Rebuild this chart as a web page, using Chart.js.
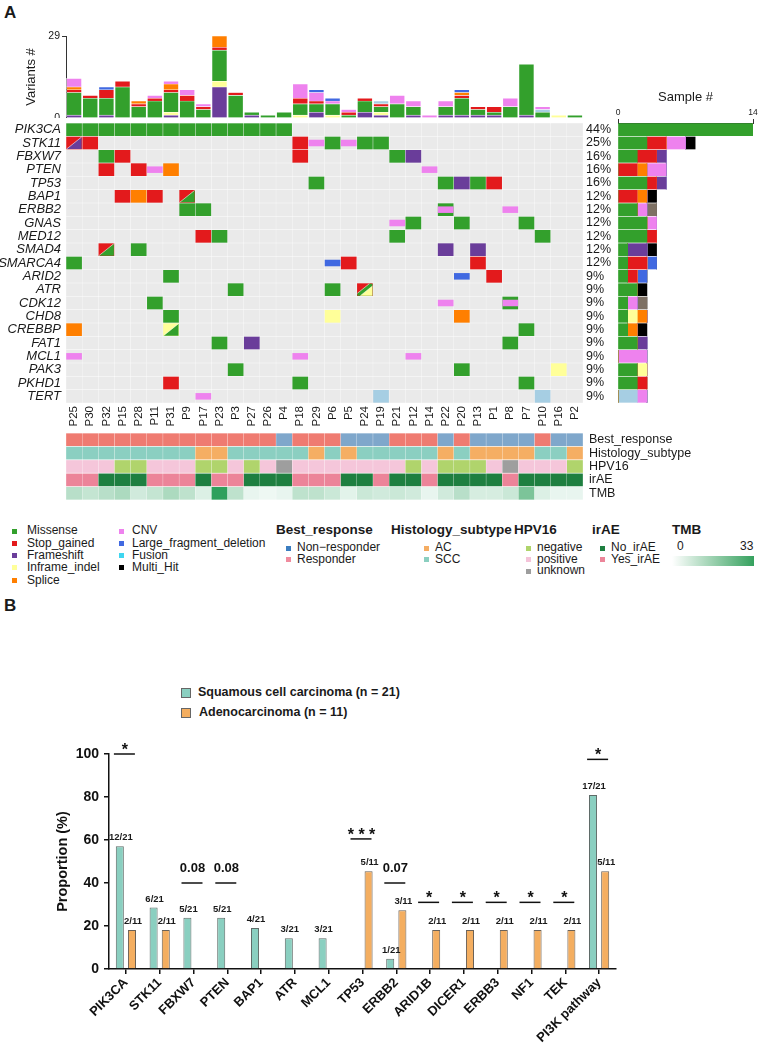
<!DOCTYPE html>
<html>
<head>
<meta charset="utf-8">
<title>Oncoprint and subtype comparison</title>
<script src="https://cdn.jsdelivr.net/npm/chart.js@4.4.1/dist/chart.umd.min.js"></script>
<style>
  html, body { margin: 0; padding: 0; background: #fff; }
  body { width: 758px; height: 1055px; position: relative; overflow: hidden; font-family: "Liberation Sans", Arial, sans-serif; color: #1a1a1a; }
  canvas, .t, .sq { position: absolute; }
  .t { white-space: nowrap; line-height: 1; }
</style>
</head>
<body>
<div class="t" style="left:4px;top:4px;font-size:17px;font-weight:bold">A</div>
<div class="t" style="left:4px;top:597px;font-size:17px;font-weight:bold">B</div>
<canvas id="variants" width="583" height="92" style="left:0;top:26px"></canvas>
<canvas id="oncoprint" width="620" height="318" style="left:0;top:118px"></canvas>
<canvas id="sampleBars" width="153" height="323" style="left:605px;top:80px"></canvas>
<canvas id="tracks" width="741" height="74" style="left:0;top:430px"></canvas>
<div id="legendA"></div>
<canvas id="histo" width="620" height="325" style="left:42px;top:730px"></canvas>
<div id="legendB"></div>
<script>
// ---------- panel A data ----------
const samples = ['P25','P30','P32','P15','P28','P11','P31','P9','P17','P23','P3','P27','P26','P4','P18','P29',
                 'P6','P5','P24','P19','P21','P12','P14','P22','P20','P13','P1','P8','P7','P10','P16','P2'];
const genes = ['PIK3CA','STK11','FBXW7','PTEN','TP53','BAP1','ERBB2','GNAS','MED12','SMAD4','SMARCA4',
               'ARID2','ATR','CDK12','CHD8','CREBBP','FAT1','MCL1','PAK3','PKHD1','TERT'];
const genePct = ['44%','25%','16%','16%','16%','12%','12%','12%','12%','12%','12%',
                 '9%','9%','9%','9%','9%','9%','9%','9%','9%','9%'];

// M missense, S stop_gained, F frameshift, I inframe_indel, P splice, C CNV, L large deletion, U fusion
// "a/b" = multi hit (split cell), "a+b" = overlaid
const mutations = {
  PIK3CA: { P25:'M', P30:'M', P32:'M', P15:'M', P28:'M', P11:'M', P31:'M', P9:'M', P17:'M', P23:'M', P3:'M', P27:'M', P26:'M', P4:'M' },
  STK11: { P25:'S/F', P30:'S', P18:'S', P29:'C', P6:'M', P5:'C', P24:'M', P19:'M' },
  FBXW7: { P32:'M', P15:'S', P18:'S', P21:'M', P12:'F' },
  PTEN: { P32:'S', P28:'S', P11:'C', P31:'P', P14:'C' },
  TP53: { P29:'M', P22:'M', P20:'F', P13:'M', P1:'S' },
  BAP1: { P15:'S', P28:'P', P11:'S', P9:'S/M' },
  ERBB2: { P9:'M', P17:'M', P22:'M+C', P8:'C' },
  GNAS: { P21:'C', P12:'M', P20:'M', P7:'M' },
  MED12: { P17:'S', P23:'M', P21:'M', P10:'M' },
  SMAD4: { P32:'S/M', P28:'M', P22:'F', P13:'F' },
  SMARCA4: { P25:'M', P6:'L', P5:'S', P13:'S' },
  ARID2: { P31:'M', P20:'L', P1:'S' },
  ATR: { P3:'M', P6:'M', P24:'S/M/I' },
  CDK12: { P11:'M', P22:'C', P8:'M+C' },
  CHD8: { P31:'M', P6:'I', P20:'P' },
  CREBBP: { P25:'P', P31:'I/M', P7:'M' },
  FAT1: { P23:'M', P27:'F', P8:'M' },
  MCL1: { P25:'C', P18:'C', P12:'C' },
  PAK3: { P3:'M', P20:'M', P16:'I' },
  PKHD1: { P31:'S', P18:'M', P7:'M' },
  TERT: { P17:'C', P19:'U', P10:'U' }
};

// variants per sample (top bars)
const varFrameshift = [1,0,1,0,0,0,1,0,0,11,0,1,0,0,0,2,0,0,2,1,0,1,0,1,1,1,1,0,1,0,0,0];
const varInframe    = [0,0,0,0,0,0,1,0,0,2,0,0,0,0,1,0,1,0,0,1,0,0,0,0,0,0,0,0,0,0,1,0];
const varMissense   = [8,7,6,11,4,6,7,6,3,11,8,1,1,2,4,3,4,1,4,2,5,3,0,3,6,2,1,4,18,2,0,1];
const varStop       = [1,1,3,2,1,1,1,2,1,1,1,0,0,0,2,1,0,1,1,1,0,0,0,0,1,1,2,0,0,0,0,0];
const varSplice     = [1,0,0,0,1,0,2,0,0,4,0,0,0,0,0,0,0,0,0,0,0,0,0,0,1,0,0,0,0,0,0,0];
const varFusion     = [0,0,0,0,0,0,0,0,0,0,0,0,0,0,0,0,0,0,0,1,0,0,0,0,0,0,0,0,0,1,0,0];
const varCNV        = [3,0,0,0,0,1,1,2,1,0,0,0,0,0,5,3,1,1,0,0,3,2,1,2,0,0,0,3,0,1,0,0];
const varLargeDel   = [0,0,1,0,0,0,0,0,0,0,0,0,0,0,0,1,1,0,0,0,0,0,0,0,1,0,0,0,0,0,0,0];

// annotation tracks
const bestResponse = ['R','R','R','R','R','R','R','R','R','R','R','R','R','N','R','R','R','N','N','N','R','R','R','N','R','N','N','N','N','R','N','N'];
const histology    = ['S','S','S','S','S','S','S','S','A','A','S','S','S','S','S','A','S','A','S','S','S','S','S','A','S','A','A','A','A','S','S','A'];
const hpv16        = ['p','p','p','n','n','p','p','p','n','n','p','n','p','u','p','p','p','p','p','p','p','n','p','n','n','n','p','u','p','p','p','n'];
const irae         = ['Y','Y','N','N','N','Y','Y','Y','N','Y','Y','N','N','N','Y','Y','Y','N','N','Y','N','N','Y','N','N','N','N','Y','N','N','N','N'];
const tmb          = [10,8,10,12,6,8,12,9,4,33,9,2,1,2,9,9,7,3,7,6,7,6,2,6,10,5,5,7,20,4,2,2];
const trackNames = ['Best_response','Histology_subtype','HPV16','irAE','TMB'];

// ---------- panel B data ----------
const bGenes = ['PIK3CA','STK11','FBXW7','PTEN','BAP1','ATR','MCL1','TP53','ERBB2','ARID1B','DICER1','ERBB3','NF1','TEK','PI3K pathway'];
const sccCount = [12,6,5,5,4,3,3,0,1,0,0,0,0,0,17];
const acCount  = [2,2,0,0,0,0,0,5,3,2,2,2,2,2,5];
const sccN = 21, acN = 11;
const sigText  = ['*','','0.08','0.08','','','','* * *','0.07','*','*','*','*','*','*'];
const sigLevel = [100,null,40,40,null,null,null,60.5,40,31,31,31,31,31,97.5];

// ---------- colours ----------
const typeColor = { M:'#33A02C', S:'#E31A1C', F:'#6A3D9A', I:'#FFFF99', P:'#FF7F00', C:'#EE82EE', L:'#4169E1', U:'#A6CEE3' };
const thinTypes = ['C','L'];
const trackColor = {
  Best_response: { R:'#EF7B71', N:'#7FA7CB' },
  Histology_subtype: { S:'#8BCFC1', A:'#F5AE63' },
  HPV16: { n:'#B0D46C', p:'#F5C6DA', u:'#9E9E9E' },
  irAE: { N:'#1E7F40', Y:'#EC8499' }
};
function tmbColor(v) {
  const t = Math.min(1, v / 33), a = [244,251,248], b = [46,160,92];
  const c = a.map((x, i) => Math.round(x + (b[i] - x) * t));
  return `rgb(${c.join(',')})`;
}

Chart.defaults.font.family = '"Liberation Sans", Arial, sans-serif';
Chart.defaults.color = '#1a1a1a';
Chart.defaults.animation = false;
Chart.defaults.plugins.legend.display = false;
Chart.defaults.plugins.tooltip.enabled = false;

// keep tick labels from adding extra padding to the chart area
const noVPad = s => { s.paddingTop = 0; s.paddingBottom = 0; };
const noHPad = s => { s.paddingLeft = 0; s.paddingRight = 0; };

// ---------- top: variants # ----------
const variantSeries = [
  ['Frameshift', varFrameshift, 'F'], ['Inframe_indel', varInframe, 'I'], ['Missense', varMissense, 'M'],
  ['Stop_gained', varStop, 'S'], ['Splice', varSplice, 'P'], ['Fusion', varFusion, 'U'],
  ['CNV', varCNV, 'C'], ['Large_fragment_deletion', varLargeDel, 'L']
];
new Chart(document.getElementById('variants'), {
  type: 'bar',
  data: {
    labels: samples,
    datasets: variantSeries.map(([label, data, code]) => ({
      label, data, backgroundColor: typeColor[code], borderColor: '#fff', borderWidth: 0.6, barThickness: 15
    }))
  },
  options: {
    responsive: false,
    layout: { padding: { left: 24, top: 10, bottom: 0, right: 0 } },
    scales: {
      x: { stacked: true, display: false },
      y: {
        stacked: true, min: 0, max: 29,
        afterBuildTicks: s => { s.ticks = [{ value: 0 }, { value: 29 }]; },
        afterFit: s => { s.width = 42; noVPad(s); },
        grid: { drawOnChartArea: false, tickLength: 4, color: '#333' },
        border: { color: '#333' },
        ticks: { font: { size: 10.5 }, padding: 2 },
        title: { display: true, text: 'Variants #', font: { size: 13 }, padding: 0 }
      }
    }
  }
});

// ---------- oncoprint matrix ----------
const bgCells = [], fullCells = [], thinCells = [], splitCells = [];
genes.forEach((g, gi) => {
  samples.forEach(s => bgCells.push({ x: s, y: [gi - 0.46, gi + 0.46] }));
  Object.entries(mutations[g]).forEach(([s, code]) => {
    if (code.includes('/')) {
      splitCells.push({ x: s, y: [gi - 0.45, gi + 0.45], colors: code.split('/').map(c => typeColor[c]) });
      return;
    }
    code.split('+').forEach(c => {
      if (thinTypes.includes(c)) thinCells.push({ x: s, y: [gi - 0.22, gi + 0.22], color: typeColor[c] });
      else fullCells.push({ x: s, y: [gi - 0.45, gi + 0.45], color: typeColor[c] });
    });
  });
});

const splitPlugin = {
  id: 'splitCells',
  afterDatasetsDraw(chart) {
    const di = chart.data.datasets.findIndex(d => d.split);
    if (di < 0) return;
    const ctx = chart.ctx;
    chart.getDatasetMeta(di).data.forEach((bar, i) => {
      const { x, y, base, width } = bar.getProps(['x', 'y', 'base', 'width'], true);
      const left = x - width / 2, top = Math.min(y, base), h = Math.abs(base - y);
      const cols = chart.data.datasets[di].data[i].colors;
      const cuts = cols.length === 2 ? [1] : [0.8, 1.2];
      cuts.forEach((t, k) => {
        const pts = t <= 1 ? [[t, 0], [1, 0], [1, 1], [0, 1], [0, t]] : [[1, t - 1], [1, 1], [t - 1, 1]];
        ctx.save();
        ctx.beginPath();
        pts.forEach(([u, v], j) => {
          const px = left + u * width, py = top + v * h;
          j ? ctx.lineTo(px, py) : ctx.moveTo(px, py);
        });
        ctx.closePath();
        ctx.fillStyle = cols[k + 1];
        ctx.fill();
        ctx.strokeStyle = 'rgba(255,255,255,0.8)';
        ctx.lineWidth = 0.7;
        ctx.beginPath();
        if (t <= 1) { ctx.moveTo(left + t * width, top); ctx.lineTo(left, top + t * h); }
        else { ctx.moveTo(left + width, top + (t - 1) * h); ctx.lineTo(left + (t - 1) * width, top + h); }
        ctx.stroke();
        ctx.restore();
      });
    });
  }
};

const rowTicks = s => { s.ticks = genes.map((g, i) => ({ value: i })); };
new Chart(document.getElementById('oncoprint'), {
  type: 'bar',
  data: {
    labels: samples,
    datasets: [
      { data: bgCells, backgroundColor: '#EAEAEA', barThickness: 15.2, order: 4 },
      { data: fullCells, backgroundColor: c => c.raw && c.raw.color, barThickness: 15, order: 3 },
      { data: splitCells, split: true, backgroundColor: c => c.raw && c.raw.colors[0], barThickness: 15, order: 2 },
      { data: thinCells, backgroundColor: c => c.raw && c.raw.color, barThickness: 15, order: 1 }
    ]
  },
  options: {
    responsive: false,
    datasets: { bar: { grouped: false } },
    layout: { padding: { top: 5, bottom: 0, left: 0, right: 0 } },
    scales: {
      x: {
        type: 'category', offset: true,
        grid: { display: false, drawTicks: false }, border: { display: false },
        ticks: { autoSkip: false, minRotation: 90, maxRotation: 90, padding: 3, font: { size: 11.5 } },
        afterFit: s => { s.height = 33; noHPad(s); }
      },
      y: {
        type: 'linear', min: -0.5, max: 20.5, reverse: true,
        afterBuildTicks: rowTicks, afterFit: s => { s.width = 66; noVPad(s); },
        grid: { display: false, drawTicks: false }, border: { display: false },
        ticks: { autoSkip: false, padding: 5, font: { size: 13, style: 'italic' }, callback: v => genes[v] }
      },
      pct: {
        type: 'linear', position: 'right', min: -0.5, max: 20.5, reverse: true,
        afterBuildTicks: rowTicks, afterFit: s => { s.width = 37; noVPad(s); },
        grid: { display: false, drawTicks: false }, border: { display: false },
        ticks: { autoSkip: false, padding: 3, font: { size: 12.5 }, callback: v => genePct[v] }
      }
    }
  },
  plugins: [splitPlugin]
});

// ---------- right: sample # per gene ----------
const sampleCats = [
  ['Missense', 'M', typeColor.M], ['Stop_gained', 'S', typeColor.S], ['Inframe_indel', 'I', typeColor.I],
  ['Splice', 'P', typeColor.P], ['Frameshift', 'F', typeColor.F], ['Fusion', 'U', typeColor.U],
  ['CNV', 'C', typeColor.C], ['Large_fragment_deletion', 'L', typeColor.L],
  ['Missense;CNV', 'M+C', '#7E7164'], ['Multi_Hit', 'multi', '#000000']
];
const catOf = code => code.includes('/') ? 'multi' : code;
new Chart(document.getElementById('sampleBars'), {
  type: 'bar',
  data: {
    labels: genes,
    datasets: sampleCats.map(([label, key, color]) => ({
      label,
      data: genes.map(g => Object.values(mutations[g]).filter(c => catOf(c) === key).length),
      backgroundColor: color, barThickness: 12
    }))
  },
  options: {
    responsive: false, indexAxis: 'y',
    layout: { padding: { left: 13, right: 5, top: 0, bottom: 0 } },
    scales: {
      x: {
        position: 'top', stacked: true, min: 0, max: 14,
        afterBuildTicks: s => { s.ticks = [{ value: 0 }, { value: 14 }]; },
        afterFit: s => { s.height = 43; noHPad(s); },
        grid: { drawOnChartArea: false, tickLength: 4, color: '#333' },
        border: { color: '#333' },
        ticks: { font: { size: 8.5 }, padding: 1, maxRotation: 0 },
        title: { display: true, text: 'Sample #', font: { size: 13 }, padding: { top: 10, bottom: 3 } }
      },
      y: { stacked: true, display: false }
    }
  }
});

// ---------- annotation tracks ----------
const trackValues = [bestResponse, histology, hpv16, irae, tmb];
const trackCells = [];
trackNames.forEach((name, ti) => {
  samples.forEach((s, si) => {
    const v = trackValues[ti][si];
    trackCells.push({ x: s, y: [ti - 0.45, ti + 0.45], color: name === 'TMB' ? tmbColor(v) : trackColor[name][v] });
  });
});
new Chart(document.getElementById('tracks'), {
  type: 'bar',
  data: { labels: samples, datasets: [{ data: trackCells, backgroundColor: c => c.raw && c.raw.color, barThickness: 15.2 }] },
  options: {
    responsive: false,
    datasets: { bar: { grouped: false } },
    layout: { padding: { left: 66, top: 3, bottom: 4, right: 0 } },
    scales: {
      x: { type: 'category', display: false },
      y: {
        type: 'linear', position: 'right', min: -0.5, max: 4.5, reverse: true,
        afterBuildTicks: s => { s.ticks = trackNames.map((n, i) => ({ value: i })); },
        afterFit: s => { s.width = 158; noVPad(s); },
        grid: { display: false, drawTicks: false }, border: { display: false },
        ticks: { autoSkip: false, padding: 6, font: { size: 12.5 }, callback: v => trackNames[v] }
      }
    }
  }
});

// ---------- panel A legends (html text) ----------
const legendA = document.getElementById('legendA');
function addText(parent, x, yc, text, size, bold, color) {
  const d = document.createElement('div');
  d.className = 't';
  d.textContent = text;
  d.style.left = x + 'px';
  d.style.top = (yc - size * 0.55) + 'px';
  d.style.fontSize = size + 'px';
  if (bold) d.style.fontWeight = 'bold';
  if (color) d.style.color = color;
  parent.appendChild(d);
}
function addSquare(parent, x, yc, size, color, border) {
  const d = document.createElement('div');
  d.className = 'sq';
  d.style.left = x + 'px';
  d.style.top = (yc - size / 2) + 'px';
  d.style.width = size + 'px';
  d.style.height = size + 'px';
  d.style.background = color;
  if (border) { d.style.boxSizing = 'border-box'; d.style.border = border; }
  parent.appendChild(d);
}
const mutLegend = [['Missense', '#33A02C'], ['Stop_gained', '#E31A1C'], ['Frameshift', '#6A3D9A'], ['Inframe_indel', '#FFFF99'],
                   ['Splice', '#FF7F00'], ['CNV', '#EE82EE'], ['Large_fragment_deletion', '#4169E1'], ['Fusion', '#3FD6F0'], ['Multi_Hit', '#000000']];
mutLegend.forEach(([label, color], i) => {
  const col = i < 5 ? 0 : 1, row = i < 5 ? i : i - 5;
  const y = 531 + row * 12.3;
  addSquare(legendA, col ? 119 : 12, y, 5, color);
  addText(legendA, col ? 132 : 27, y, label, 12);
});
const annLegend = [
  { title: 'Best_response', x: 276, sx: 286, items: [['Non\u2212responder', '#3B7DC0'], ['Responder', '#F08B9E']] },
  { title: 'Histology_subtype', x: 391, sx: 424, items: [['AC', '#F5AD63'], ['SCC', '#8BCFC0']] },
  { title: 'HPV16', x: 514, sx: 526, items: [['negative', '#AFD46B'], ['positive', '#F4C3D9'], ['unknown', '#9D9D9D']] },
  { title: 'irAE', x: 592, sx: 600, items: [['No_irAE', '#1E7F40'], ['Yes_irAE', '#EC8599']] }
];
annLegend.forEach(grp => {
  addText(legendA, grp.x, 530, grp.title, 13.5, true);
  grp.items.forEach(([label, color], i) => {
    const y = 548 + i * 11.5;
    addSquare(legendA, grp.sx, y, 5, color);
    addText(legendA, grp.sx + 11, y, label, 12);
  });
});
addText(legendA, 672, 530, 'TMB', 13.5, true);
addText(legendA, 677, 547, '0', 12);
addText(legendA, 740, 547, '33', 12);
const grad = document.createElement('div');
grad.className = 'sq';
Object.assign(grad.style, { left: '672px', top: '556px', width: '82px', height: '10px', background: 'linear-gradient(to right, #ffffff, #35A15E)' });
legendA.appendChild(grad);

// ---------- panel B ----------
const legendB = document.getElementById('legendB');
addSquare(legendB, 181, 693, 10, '#8ACFC0', '1px solid #666');
addText(legendB, 198, 693, 'Squamous cell carcinoma (n = 21)', 12.5, true);
addSquare(legendB, 181, 713, 10, '#F4AE60', '1px solid #666');
addText(legendB, 199, 713, 'Adenocarcinoma (n = 11)', 12.5, true);

const barLabelPlugin = {
  id: 'barLabels',
  afterDatasetsDraw(chart) {
    const ctx = chart.ctx;
    ctx.save();
    ctx.font = 'bold 9.5px "Liberation Sans", Arial, sans-serif';
    ctx.fillStyle = '#1a1a1a';
    ctx.textAlign = 'center';
    ctx.textBaseline = 'alphabetic';
    chart.data.datasets.forEach((ds, di) => {
      chart.getDatasetMeta(di).data.forEach((bar, i) => {
        const c = ds.counts[i];
        if (!c) return;
        ctx.fillText(`${c}/${ds.total}`, bar.x + 1, bar.y - 6);
      });
    });
    ctx.restore();
  }
};
const sigPlugin = {
  id: 'significance',
  afterDraw(chart) {
    const ctx = chart.ctx, xs = chart.scales.x, ys = chart.scales.y;
    ctx.save();
    ctx.strokeStyle = '#111';
    ctx.fillStyle = '#111';
    ctx.lineWidth = 1.5;
    ctx.textAlign = 'center';
    bGenes.forEach((g, i) => {
      if (sigLevel[i] == null) return;
      const x = xs.getPixelForValue(i), y = ys.getPixelForValue(sigLevel[i]);
      ctx.beginPath();
      ctx.moveTo(x - 12, y);
      ctx.lineTo(x + 9, y);
      ctx.stroke();
      const isNum = /\d/.test(sigText[i]);
      ctx.font = isNum ? 'bold 13px "Liberation Sans", Arial, sans-serif' : 'bold 16px "Liberation Sans", Arial, sans-serif';
      ctx.fillText(sigText[i], x - 1, isNum ? y - 11 : y + 1);
    });
    ctx.restore();
  }
};

new Chart(document.getElementById('histo'), {
  type: 'bar',
  data: {
    labels: bGenes,
    datasets: [
      { label: 'Squamous cell carcinoma (n = 21)', counts: sccCount, total: sccN,
        data: sccCount.map(c => c ? c / sccN * 100 : null),
        backgroundColor: '#8ACFC0', borderColor: '#5f6b68', borderWidth: 1 },
      { label: 'Adenocarcinoma (n = 11)', counts: acCount, total: acN,
        data: acCount.map(c => c ? c / acN * 100 : null),
        backgroundColor: '#F4AE60', borderColor: '#6b6258', borderWidth: 1 }
    ]
  },
  options: {
    responsive: false,
    categoryPercentage: 0.72, barPercentage: 0.66,
    layout: { padding: { left: 10, top: 24, right: 46, bottom: 0 } },
    scales: {
      x: {
        grid: { display: true, drawOnChartArea: false, offset: false, tickLength: 5, color: '#111', lineWidth: 1.5 },
        border: { color: '#111', width: 1.5 },
        ticks: { autoSkip: false, minRotation: 45, maxRotation: 45, padding: 1, color: '#111', font: { size: 13, weight: 'bold' } },
        afterFit: s => { s.height = 86; }
      },
      y: {
        min: 0, max: 100,
        ticks: { stepSize: 20, padding: 5, color: '#111', font: { size: 14, weight: 'bold' } },
        grid: { drawOnChartArea: false, tickLength: 5, color: '#111', lineWidth: 1.5 },
        border: { color: '#111', width: 1.5 },
        title: { display: true, text: 'Proportion (%)', color: '#111', font: { size: 14.5, weight: 'bold' }, padding: 2 },
        afterFit: s => { s.width = 57; noVPad(s); }
      }
    }
  },
  plugins: [barLabelPlugin, sigPlugin]
});
</script>
</body>
</html>
